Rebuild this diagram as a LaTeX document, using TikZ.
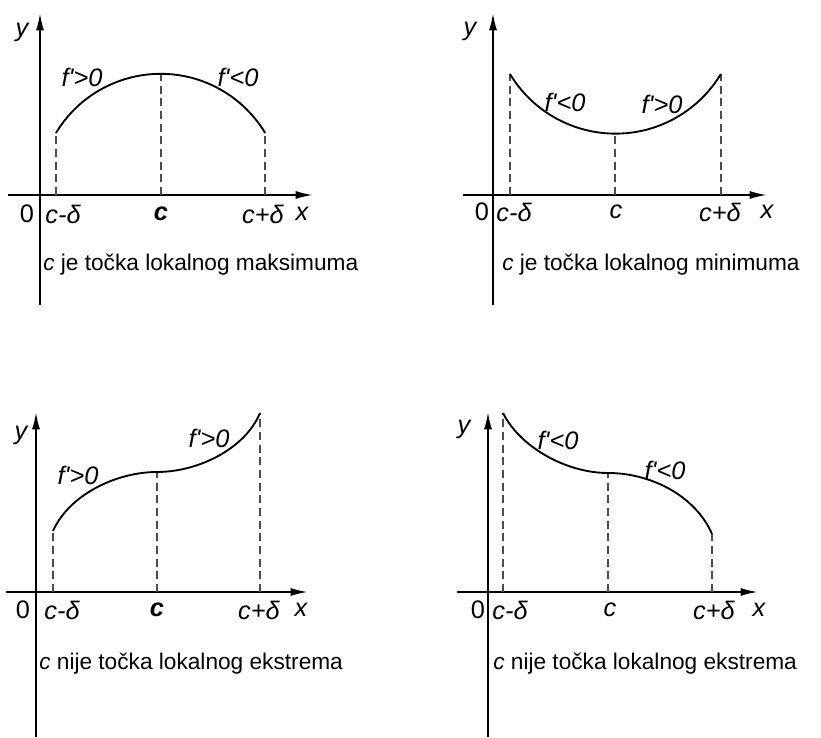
\documentclass[tikz,border=0pt]{standalone}
\usepackage{fontspec}
\setmainfont{Liberation Sans}
\usetikzlibrary{arrows.meta}

\begin{document}
\begin{tikzpicture}[x=0.75pt, y=0.75pt,
        axis/.style={line width=1.4pt, -{Latex[length=13pt, width=6pt]}},
        graph/.style={line width=1.4pt},
        guide/.style={dash pattern=on 6pt off 3.5pt, line width=0.9pt, black!70},
        lbl/.style={font=\fontsize{19}{22}\selectfont\itshape, inner sep=0pt},
        num/.style={font=\fontsize{19}{22}\selectfont, inner sep=0pt},
        caption/.style={font=\fontsize{17}{20}\selectfont, anchor=west, inner sep=0pt}
    ]
    \useasboundingbox (0,0) rectangle (821,738);

    % local maximum
    \begin{scope}[shift={(40,543)}]
        \draw[axis] (-32,0) -- (273,0);
        \draw[axis] (0,-110) -- (0,182);
        \draw[guide] (16,0) -- (16,62);
        \draw[guide] (121,0) -- (121,121);
        \draw[guide] (225,0) -- (225,62);
        \draw[graph] (16,62) arc[start angle=149, end angle=31, radius=122];
        \node[lbl] (maxY) at (-18,163) {y};
        \node[lbl] (maxFa) at (42,118) {f\textquotesingle>0};
        \node[lbl] (maxFb) at (198,118) {f\textquotesingle<0};
        \node[num] (maxZero) at (-13,-19) {0};
        \node[lbl] (maxCl) at (23,-19) {c-δ};
        \node[lbl] (maxC) at (121,-19) {\bfseries c};
        \node[lbl] (maxCr) at (223,-19) {c+δ};
        \node[lbl] (maxX) at (262,-19) {x};
        \node[caption] (maxCap) at (3,-70) {\textit{c} je točka lokalnog maksimuma};
    \end{scope}

    % local minimum
    \begin{scope}[shift={(493,543)}]
        \draw[axis] (-30,0) -- (274,0);
        \draw[axis] (0,-110) -- (0,182);
        \draw[guide] (17,0) -- (17,121);
        \draw[guide] (122,0) -- (122,61);
        \draw[guide] (228,0) -- (228,121);
        \draw[graph] (17,121) arc[start angle=211, end angle=329, radius=123];
        \node[lbl] (minY) at (-23,164) {y};
        \node[lbl] (minFa) at (72,93) {f\textquotesingle<0};
        \node[lbl] (minFb) at (169,91) {f\textquotesingle>0};
        \node[num] (minZero) at (-11,-17) {0};
        \node[lbl] (minCl) at (21,-17) {c-δ};
        \node[lbl] (minC) at (123,-17) {c};
        \node[lbl] (minCr) at (227,-17) {c+δ};
        \node[lbl] (minX) at (274,-17) {x};
        \node[caption] (minCap) at (9,-70) {\textit{c} je točka lokalnog minimuma};
    \end{scope}

    % increasing, no extremum
    \begin{scope}[shift={(36,146)}]
        \draw[axis] (-30,0) -- (272,0);
        \draw[axis] (0,-145) -- (0,180);
        \draw[guide] (17,0) -- (17,61);
        \draw[guide] (121,0) -- (121,120);
        \draw[guide] (224,0) -- (224,179);
        \draw[graph] (17,61) .. controls (33,97) and (80,120) .. (121,120)
            .. controls (162,120) and (209,143) .. (224,179);
        \node[lbl] (incY) at (-15,157) {y};
        \node[lbl] (incFa) at (42,117) {f\textquotesingle>0};
        \node[lbl] (incFb) at (173,154) {f\textquotesingle>0};
        \node[num] (incZero) at (-13,-18) {0};
        \node[lbl] (incCl) at (26,-18) {c-δ};
        \node[lbl] (incC) at (121,-18) {\bfseries c};
        \node[lbl] (incCr) at (223,-18) {c+δ};
        \node[lbl] (incX) at (265,-18) {x};
        \node[caption] (incCap) at (3,-72) {\textit{c} nije točka lokalnog ekstrema};
    \end{scope}

    % decreasing, no extremum
    \begin{scope}[shift={(488,146)}]
        \draw[axis] (-31,0) -- (270,0);
        \draw[axis] (0,-145) -- (0,180);
        \draw[guide] (15,0) -- (15,179);
        \draw[guide] (120,0) -- (120,119);
        \draw[guide] (224,0) -- (224,58);
        \draw[graph] (15,179) .. controls (32,145) and (78,119) .. (120,119)
            .. controls (162,119) and (207,97) .. (224,58);
        \node[lbl] (decY) at (-24,163) {y};
        \node[lbl] (decFa) at (70,152) {f\textquotesingle<0};
        \node[lbl] (decFb) at (177,122) {f\textquotesingle<0};
        \node[num] (decZero) at (-10,-18) {0};
        \node[lbl] (decCl) at (22,-18) {c-δ};
        \node[lbl] (decC) at (122,-18) {c};
        \node[lbl] (decCr) at (226,-18) {c+δ};
        \node[lbl] (decX) at (271,-18) {x};
        \node[caption] (decCap) at (5,-72) {\textit{c} nije točka lokalnog ekstrema};
    \end{scope}
\end{tikzpicture}
\end{document}
